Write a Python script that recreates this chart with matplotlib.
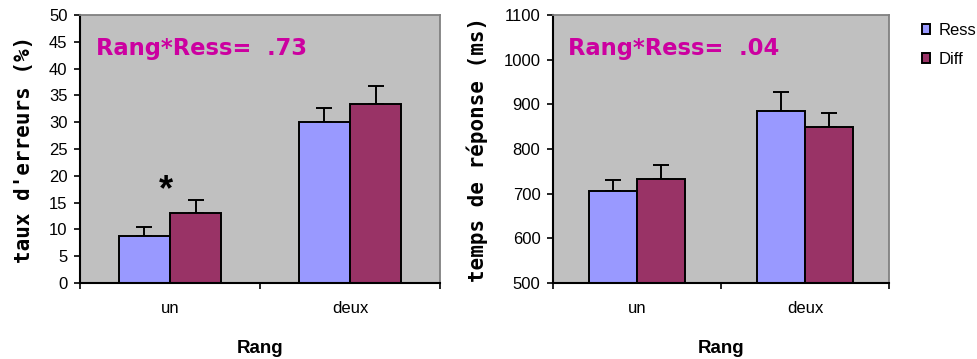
import numpy as np
import matplotlib.pyplot as plt

# group means and upper error bars
rangs = ['un', 'deux']
conds = ['Ress', 'Diff']
err_taux = {'Ress': [8.7, 30.0], 'Diff': [13.0, 33.4]}
err_taux_sd = {'Ress': [1.7, 2.6], 'Diff': [2.5, 3.4]}
tr_ms = {'Ress': [706, 885], 'Diff': [732, 850]}
tr_ms_sd = {'Ress': [24, 42], 'Diff': [32, 30]}
colors = {'Ress': '#9999FF', 'Diff': '#993366'}

plt.rcParams['font.family'] = ['Liberation Sans', 'DejaVu Sans']

fig = plt.figure(figsize=(9.78, 3.59), dpi=100)
ax1 = fig.add_axes([0.0818, 0.2117, 0.3681, 0.7465])
ax2 = fig.add_axes([0.5654, 0.2117, 0.3436, 0.7465])

w = 1 / 3.5
x = np.arange(len(rangs))


def draw(ax, vals, sds, ylim, yticks, ylabel, txt, lpad):
    bot = ylim[0]
    for i, c in enumerate(conds):
        pos = x + (i - 0.5) * w
        h = np.array(vals[c]) - bot
        ax.bar(pos, h, w, bottom=bot, color=colors[c], edgecolor='black',
               linewidth=1.4, label=c, zorder=2)
        ax.errorbar(pos, vals[c], yerr=[np.zeros(len(rangs)), sds[c]],
                    fmt='none', ecolor='black', elinewidth=1.4, capsize=6,
                    capthick=1.4, zorder=1)
    ax.set_facecolor('#C0C0C0')
    ax.set_xlim(-0.5, 1.5)
    ax.set_ylim(*ylim)
    ax.set_yticks(yticks)
    ax.tick_params(axis='y', direction='out', length=4, width=1.2, labelsize=12, pad=5)
    ax.set_xticks([-0.5, 0.5, 1.5])
    ax.set_xticklabels([])
    ax.set_xticks(x, minor=True)
    ax.set_xticklabels(rangs, minor=True)
    ax.tick_params(axis='x', which='major', direction='out', length=4, width=1.2)
    ax.tick_params(axis='x', which='minor', length=0, labelsize=12, pad=13)
    for s in ['left', 'bottom']:
        ax.spines[s].set_color('black')
        ax.spines[s].set_linewidth(1.5)
    for s in ['top', 'right']:
        ax.spines[s].set_color('#808080')
        ax.spines[s].set_linewidth(1.3)
    ax.set_xlabel('Rang', fontsize=13.5, fontweight='bold', labelpad=17)
    ax.set_ylabel(ylabel, fontsize=15, fontweight='bold', family='DejaVu Sans Mono',
                  labelpad=lpad)
    ax.text(0.045, 0.875, txt, transform=ax.transAxes, fontsize=16.3,
            fontweight='bold', color='#CC00A0', family='DejaVu Sans', va='center')


draw(ax1, err_taux, err_taux_sd, (0, 50), np.arange(0, 51, 5),
     "taux d'erreurs (%)", 'Rang*Ress=  .73', 11)
draw(ax2, tr_ms, tr_ms_sd, (500, 1100), np.arange(500, 1101, 100),
     'temps de réponse (ms)', 'Rang*Ress=  .04', 11)

# significance marker over "un"
ax1.text(-0.02, 17.2, '*', fontsize=26, fontweight='bold', ha='center', va='center')

h, l = ax2.get_legend_handles_labels()
fig.legend(h, l, loc='upper left', bbox_to_anchor=(0.936, 0.955), frameon=False,
           fontsize=12, handlelength=0.5, handleheight=0.5, handletextpad=0.5,
           labelspacing=0.85, borderaxespad=0)

fig.savefig('out.png', dpi=100)
